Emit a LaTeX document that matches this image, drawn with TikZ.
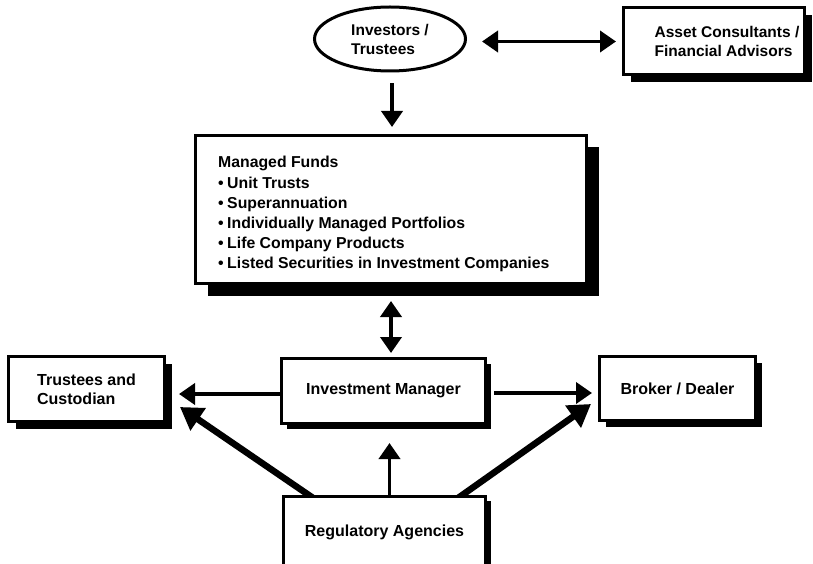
\documentclass[tikz,border=0pt]{standalone}
\usepackage{fontspec}
\setmainfont{Liberation Sans}
\usetikzlibrary{arrows.meta,shapes.geometric,shadows,backgrounds,calc}
\begin{document}
\begin{tikzpicture}[x=1pt,y=-1pt,
  txt/.style={font=\fontsize{15.5}{19}\selectfont\bfseries, align=left, inner sep=0pt},
  txtL/.style={font=\fontsize{16}{19}\selectfont\bfseries, align=left, inner sep=0pt},
  box/.style={draw, line width=3pt, fill=white, inner sep=0pt,
    drop shadow={shadow xshift=#1, shadow yshift=-#1, fill=black, opacity=1}},
  box/.default=7pt,
  ell/.style={ellipse, draw, line width=3pt, fill=white, inner sep=0pt, txt},
  arr/.style={line width=3.8pt, -{Triangle[length=16pt,width=21pt]}},
  dbl/.style={line width=3.8pt, {Triangle[length=16pt,width=21pt]}-{Triangle[length=16pt,width=21pt]}},
  diag/.style={line width=6.5pt, -{Triangle[length=22pt,width=26pt]}}
]
\useasboundingbox (0,0) rectangle (813,564);
\clip (0,0) rectangle (813,564);

% nodes
\node[ell, minimum width=151pt, minimum height=64pt] (inv) at (390,39) {Investors /\\Trustees};
\node[box, minimum width=181pt, minimum height=67pt] (asset) at (714,41.5) {};
\node[txt] (assettext) at ([xshift=13pt]asset.center) {Asset Consultants /\\Financial Advisors};

\node[box=12pt, minimum width=391pt, minimum height=148pt] (mf) at (391,209.5) {};
\node[txt, font=\fontsize{15.8}{19.8}\selectfont\bfseries, anchor=west] (mftext) at ([xshift=24pt,yshift=-4pt]mf.west)
  {Managed Funds\\[2pt]
   \textbullet\hspace{3.5pt}Unit Trusts\\
   \textbullet\hspace{3.5pt}Superannuation\\
   \textbullet\hspace{3.5pt}Individually Managed Portfolios\\
   \textbullet\hspace{3.5pt}Life Company Products\\
   \textbullet\hspace{3.5pt}Listed Securities in Investment Companies};

\node[box, txtL, minimum width=156pt, minimum height=65pt] (tc) at (86.5,389) {Trustees and\\Custodian};
\node[box=5pt, txtL, minimum width=204pt, minimum height=65pt] (im) at (383.5,391) {Investment Manager};
\node[box=6pt, txtL, minimum width=156pt, minimum height=64pt] (br) at (677.5,388.5) {Broker / Dealer};
\node[box=5pt, txtL, minimum width=202pt, minimum height=73pt] (reg) at (384.5,532.5) {Regulatory Agencies};

% connectors
\begin{pgfonlayer}{background}
\fill[white] (0,0) rectangle (813,564);
\draw[dbl, shorten <=15pt, shorten >=6pt] (inv.east |- asset.west) -- (asset.west);
\draw[arr, shorten <=11pt, shorten >=7pt] ([xshift=2pt]inv.south) -- ([xshift=2pt]inv.south |- mf.north);
\draw[dbl, shorten <=16pt, shorten >=4pt] (mf.south) -- (mf.south |- im.north);
\draw[arr, shorten >=13pt] ([yshift=-3pt]im.west) -- ([yshift=-3pt]im.west -| tc.east);
\draw[arr, shorten <=7pt, shorten >=6pt] ([yshift=-2pt]im.east) -- ([yshift=-2pt]im.east -| br.west);
\draw[arr, shorten >=18pt] ([xshift=5pt]reg.north) -- ([xshift=5pt]reg.north |- im.south);
\coordinate (dl0) at ([xshift=26pt]reg.north west);
\coordinate (dl1) at ([xshift=14pt,yshift=16pt]tc.south east);
\coordinate (dr0) at ([xshift=-24pt]reg.north east);
\coordinate (dr1) at ([xshift=-7pt,yshift=18pt]br.south west);
\draw[diag] ($(dl0)!-8pt!(dl1)$) -- (dl1);
\draw[diag] ($(dr0)!-8pt!(dr1)$) -- (dr1);
\end{pgfonlayer}
\end{tikzpicture}
\end{document}
